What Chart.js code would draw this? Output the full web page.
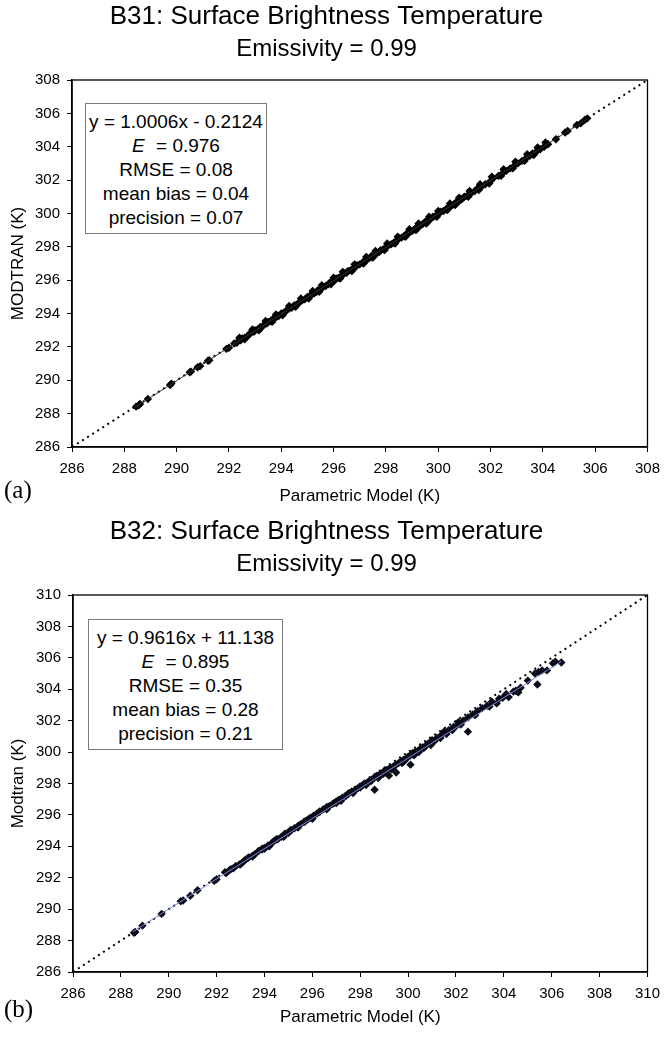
<!DOCTYPE html>
<html>
<head>
<meta charset="utf-8">
<script src="https://cdn.jsdelivr.net/npm/chart.js@4"></script>
<style>
  body { margin: 0; background: #fff; width: 668px; height: 1037px; position: relative; overflow: hidden; font-family: "Liberation Sans", Arial, sans-serif; }
  .panel { position: absolute; left: 0; width: 668px; }
  .tag { position: absolute; left: 4px; font-family: "Liberation Serif", "Times New Roman", serif; font-size: 25px; color: #000; }
  .stats { position: absolute; border: 1px solid #7a7a7a; background: #fff; text-align: center; font-size: 19px; line-height: 24px; color: #000; padding: 6px 0; box-sizing: border-box; }
  .stats i { margin-right: 6px; }
</style>
</head>
<body>
<div class="panel" style="top:0;height:515px"><canvas id="chart-b31"></canvas></div>
<div class="panel" style="top:515px;height:522px"><canvas id="chart-b32"></canvas></div>
<div class="tag" style="top:476px">(a)</div>
<div class="tag" style="top:995px">(b)</div>
<div class="stats" style="left:85px;top:103px;width:182px;height:131px">
  y = 1.0006x - 0.2124<br><i>E</i> = 0.976<br>RMSE = 0.08<br>mean bias = 0.04<br>precision = 0.07
</div>
<div class="stats" style="left:88px;top:619px;width:195px;height:131px">
  y = 0.9616x + 11.138<br><i>E</i> = 0.895<br>RMSE = 0.35<br>mean bias = 0.28<br>precision = 0.21
</div>
<script>
// B31 panel - parametric model vs MODTRAN (K)
const b31Param = [288.45, 288.55, 288.6, 288.9, 289.75, 289.8, 290.5, 290.55, 290.8, 290.9, 291.2, 291.25, 291.9, 292.0,
  292.2, 292.3, 292.45, 292.5, 292.6, 292.75, 292.8, 292.95, 293.0, 293.1, 293.2, 293.3, 293.45, 293.5, 293.6, 293.7,
  293.8, 293.9, 294.0, 294.1, 294.2, 294.3, 294.4, 294.5, 294.6, 294.7, 294.8, 294.9, 295.0, 295.1, 295.15, 295.25,
  295.35, 295.4, 295.5, 295.6, 295.7, 295.8, 295.85, 295.95, 296.05, 296.1, 296.2, 296.3, 296.4, 296.5, 296.55, 296.65,
  296.75, 296.85, 296.9, 297.0, 297.1, 297.2, 297.3, 297.4, 297.45, 297.55, 297.65, 297.75, 297.8, 297.9, 298.0, 298.1,
  298.2, 298.3, 298.4, 298.5, 298.6, 298.7, 298.8, 298.9, 299.0, 299.1, 299.2, 299.3, 299.4, 299.5, 299.6, 299.7,
  299.8, 299.9, 300.0, 300.1, 300.2, 300.3, 300.4, 300.5, 300.6, 300.7, 300.8, 300.9, 301.0, 301.1, 301.25, 301.4,
  301.5, 301.65, 301.8, 302.0, 302.1, 302.3, 302.45, 302.6, 302.75, 302.9, 303.05, 303.2, 303.35, 303.5, 303.6, 303.75,
  303.9, 304.05, 304.2, 304.5, 304.85, 304.95, 305.3, 305.45, 305.6, 305.7,
  292.4, 292.9, 293.4, 293.8, 294.3, 294.75, 295.2, 295.55, 296.0, 296.35, 296.8, 297.25, 297.6, 298.05, 298.45, 298.9,
  299.25, 299.65, 300.0, 300.45, 300.8, 301.2, 301.6, 302.05, 302.5, 302.95, 303.4, 303.8, 304.1,
  292.6, 293.15, 293.65, 294.05, 294.55, 295.05, 295.45, 295.9, 296.25, 296.7, 297.15, 297.5, 297.95, 298.35, 298.75,
  299.15, 299.55, 299.95, 300.35, 300.65, 301.15, 301.55, 301.95, 302.4, 302.85, 303.3, 303.65];
const b31Modtran = [288.42, 288.5, 288.58, 288.88, 289.72, 289.8, 290.48, 290.52, 290.78, 290.85, 291.17, 291.2, 291.88, 291.95,
  292.2, 292.25, 292.4, 292.5, 292.55, 292.7, 292.8, 292.9, 293.0, 293.05, 293.2, 293.25, 293.4, 293.5, 293.55, 293.7,
  293.78, 293.85, 294.0, 294.05, 294.18, 294.3, 294.35, 294.5, 294.55, 294.68, 294.8, 294.85, 295.0, 295.05, 295.15, 295.2,
  295.3, 295.4, 295.45, 295.6, 295.65, 295.75, 295.85, 295.9, 296.0, 296.1, 296.15, 296.25, 296.4, 296.45, 296.55, 296.6,
  296.7, 296.8, 296.9, 296.95, 297.05, 297.2, 297.25, 297.35, 297.45, 297.5, 297.6, 297.7, 297.8, 297.85, 297.95, 298.1,
  298.15, 298.25, 298.35, 298.5, 298.55, 298.65, 298.8, 298.85, 298.95, 299.05, 299.2, 299.25, 299.35, 299.5, 299.55, 299.65,
  299.8, 299.85, 299.95, 300.1, 300.15, 300.25, 300.4, 300.45, 300.55, 300.7, 300.75, 300.85, 301.0, 301.05, 301.2, 301.35,
  301.5, 301.6, 301.75, 301.95, 302.1, 302.25, 302.4, 302.55, 302.7, 302.85, 303.0, 303.15, 303.3, 303.45, 303.6, 303.7,
  303.85, 304.0, 304.15, 304.45, 304.85, 304.95, 305.3, 305.4, 305.6, 305.7,
  292.55, 293.05, 293.55, 293.95, 294.45, 294.9, 295.35, 295.7, 296.15, 296.5, 296.95, 297.4, 297.75, 298.2, 298.6, 299.05,
  299.4, 299.8, 300.15, 300.6, 300.95, 301.35, 301.75, 302.2, 302.65, 303.1, 303.55, 303.95, 304.25,
  292.45, 293.0, 293.5, 293.9, 294.4, 294.9, 295.3, 295.75, 296.1, 296.55, 297.0, 297.35, 297.8, 298.2, 298.6,
  299.0, 299.4, 299.8, 300.2, 300.5, 301.0, 301.4, 301.8, 302.25, 302.7, 303.15, 303.5];
const b31FitX = [288.4, 305.7];
const b31FitY = [288.37, 305.68];
const b31Ticks = [286, 308];

// B32 panel
const b32Param = [288.55, 288.6, 288.9, 289.7, 290.5, 290.6, 290.9, 291.2, 291.9, 292.0, 292.35, 292.4, 292.55, 292.7,
  292.8, 292.95, 293.1, 293.2, 293.35, 293.5, 293.6, 293.75, 293.9, 294.0, 294.15, 294.3, 294.4, 294.55, 294.7, 294.85,
  295.0, 295.1, 295.25, 295.4, 295.5, 295.65, 295.8, 295.9, 296.05, 296.2, 296.3, 296.45, 296.6, 296.7, 296.85, 297.0,
  297.1, 297.25, 297.4, 297.5, 297.65, 297.8, 297.9, 298.0, 298.15, 298.3, 298.4, 298.5, 298.6, 298.6, 298.7, 298.8,
  298.9, 299.0, 299.1, 299.2, 299.25, 299.4, 299.5, 299.5, 299.6, 299.7, 299.8, 299.9, 300.0, 300.1, 300.1, 300.2,
  300.3, 300.4, 300.5, 300.6, 300.7, 300.8, 300.9, 301.0, 301.2, 301.4, 301.5, 301.7, 301.9, 302.1, 302.3, 302.5,
  302.5, 302.7, 302.9, 303.1, 303.3, 303.5, 303.7, 303.8, 304.1, 304.2, 304.5, 304.6, 304.7, 305.4, 305.3, 305.45,
  305.8, 306.05, 306.15, 306.4,
  293.0, 294.0, 295.0, 296.0, 297.0, 298.0, 299.0, 300.2, 301.0, 302.0,
  292.6, 293.3, 293.9, 294.5, 295.1, 295.7, 296.3, 296.9, 297.5, 298.1, 298.45, 298.95, 299.35, 299.75, 300.25, 300.65,
  301.1, 301.6, 302.2, 302.8, 303.4, 303.95, 304.4, 305.0, 305.6,
  293.5, 294.2, 294.8, 295.4, 296.0, 296.6, 297.2, 297.7, 298.25, 298.75, 299.3, 299.85, 300.45, 300.95, 301.35, 301.85];
const b32Modtran = [288.5, 288.55, 288.95, 289.7, 290.5, 290.55, 290.85, 291.2, 291.8, 291.9, 292.35, 292.3, 292.5, 292.6,
  292.75, 292.85, 293.0, 293.15, 293.3, 293.4, 293.5, 293.7, 293.8, 293.9, 294.05, 294.2, 294.35, 294.45, 294.6, 294.8,
  294.9, 295.0, 295.15, 295.3, 295.4, 295.55, 295.7, 295.8, 295.95, 296.1, 296.2, 296.35, 296.5, 296.55, 296.7, 296.85,
  296.95, 297.1, 297.2, 297.35, 297.5, 297.6, 297.7, 297.8, 297.95, 298.05, 298.2, 298.25, 298.4, 297.6, 298.5, 298.55,
  298.6, 298.8, 298.85, 298.5, 299.0, 299.1, 298.7, 299.2, 299.3, 299.4, 299.5, 299.55, 299.7, 299.2, 299.8, 299.95,
  300.0, 300.05, 300.2, 300.3, 300.35, 300.5, 300.6, 300.65, 300.9, 301.1, 301.3, 301.4, 301.6, 301.9, 302.0, 301.3,
  302.2, 302.4, 302.6, 302.8, 302.95, 303.2, 303.1, 303.4, 303.7, 303.5, 303.9, 303.8, 304.1, 304.3, 305.0, 305.1,
  305.2, 305.65, 305.75, 305.7,
  292.85, 293.85, 294.85, 295.8, 296.75, 297.75, 298.7, 299.9, 300.75, 301.65,
  292.55, 293.25, 293.85, 294.45, 295.05, 295.6, 296.2, 296.75, 297.35, 297.9, 298.15, 298.6, 299.0, 299.3, 299.8, 300.25,
  300.7, 301.15, 301.75, 302.35, 302.9, 303.45, 303.85, 304.55, 305.2,
  293.35, 294.0, 294.6, 295.2, 295.75, 296.35, 296.9, 297.4, 297.9, 298.35, 298.9, 299.45, 300.0, 300.45, 300.9, 301.4];
const b32FitX = [288.5, 306.4];
const b32FitY = [288.56, 305.77];
const b32Ticks = [286, 310];

const FONT = `"Liberation Sans", Arial, sans-serif`;

function toPoints(xs, ys) {
  return xs.map((x, i) => ({ x: x, y: ys[i] }));
}

// full frame round the plot area
const plotFrame = {
  id: `plotFrame`,
  afterDraw(chart) {
    const { ctx, chartArea } = chart;
    ctx.save();
    ctx.strokeStyle = `#000`;
    ctx.lineWidth = 1.3;
    ctx.strokeRect(chartArea.left, chartArea.top, chartArea.right - chartArea.left, chartArea.bottom - chartArea.top);
    ctx.restore();
  }
};

function axis(range, title, fitSize, isX, titlePad) {
  return {
    type: `linear`,
    position: isX ? `bottom` : `left`,
    min: range[0],
    max: range[1],
    ticks: { stepSize: 2, color: `#000`, font: { family: FONT, size: 15 }, padding: isX ? 8 : 7, maxRotation: 0, autoSkip: false },
    grid: { display: true, drawOnChartArea: false, drawTicks: true, tickLength: 5, color: `#000` },
    border: { display: true, color: `#000`, width: 1.5 },
    title: { display: true, text: title, color: `#000`, font: { family: FONT, size: 17 }, padding: titlePad },
    afterFit(scale) {
      if (isX) scale.height = fitSize; else scale.width = fitSize;
    }
  };
}

function makeChart(id, cfg) {
  return new Chart(document.getElementById(id), {
    type: `scatter`,
    data: {
      datasets: [{
        label: `fit`,
        type: `line`,
        data: toPoints(cfg.fitX, cfg.fitY),
        borderColor: cfg.fitColor,
        borderWidth: 1,
        pointRadius: 0,
        order: 0
      }, {
        label: `points`,
        data: toPoints(cfg.xs, cfg.ys),
        pointStyle: `rectRot`,
        pointRadius: 4.2,
        backgroundColor: cfg.pointColor,
        borderWidth: 0,
        order: 1
      }, {
        label: `1:1`,
        type: `line`,
        data: toPoints(cfg.ticks, cfg.ticks),
        borderColor: `#000`,
        borderWidth: 2,
        borderDash: [2, 4],
        pointRadius: 0,
        order: 2
      }]
    },
    options: {
      responsive: true,
      maintainAspectRatio: false,
      animation: false,
      layout: { padding: { left: 0, right: 15, top: 0, bottom: 0 } },
      plugins: {
        legend: { display: false },
        tooltip: { enabled: false },
        title: { display: true, text: cfg.title, color: `#000`, font: { family: FONT, size: 26, weight: `normal` }, padding: { top: 1, bottom: 3 } },
        subtitle: { display: true, text: `Emissivity = 0.99`, color: `#000`, font: { family: FONT, size: 24, weight: `normal` }, padding: { top: 0, bottom: 16 } }
      },
      scales: {
        x: axis(cfg.ticks, `Parametric Model (K)`, cfg.xHeight, true, { top: 0, bottom: cfg.xTitlePad }),
        y: axis(cfg.ticks, cfg.yTitle, cfg.yWidth, false, { top: 8, bottom: 0 })
      }
    },
    plugins: [plotFrame]
  });
}

makeChart(`chart-b31`, {
  title: `B31: Surface Brightness Temperature`,
  yTitle: `MODTRAN (K)`,
  xs: b31Param, ys: b31Modtran, fitX: b31FitX, fitY: b31FitY, ticks: b31Ticks,
  fitColor: `#333`, pointColor: `#000`,
  xHeight: 68, yWidth: 72, xTitlePad: 8
});

makeChart(`chart-b32`, {
  title: `B32: Surface Brightness Temperature`,
  yTitle: `Modtran (K)`,
  xs: b32Param, ys: b32Modtran, fitX: b32FitX, fitY: b32FitY, ticks: b32Ticks,
  fitColor: `#7b8fd6`, pointColor: `#0b0b1a`,
  xHeight: 65, yWidth: 73, xTitlePad: 9
});
</script>
</body>
</html>
